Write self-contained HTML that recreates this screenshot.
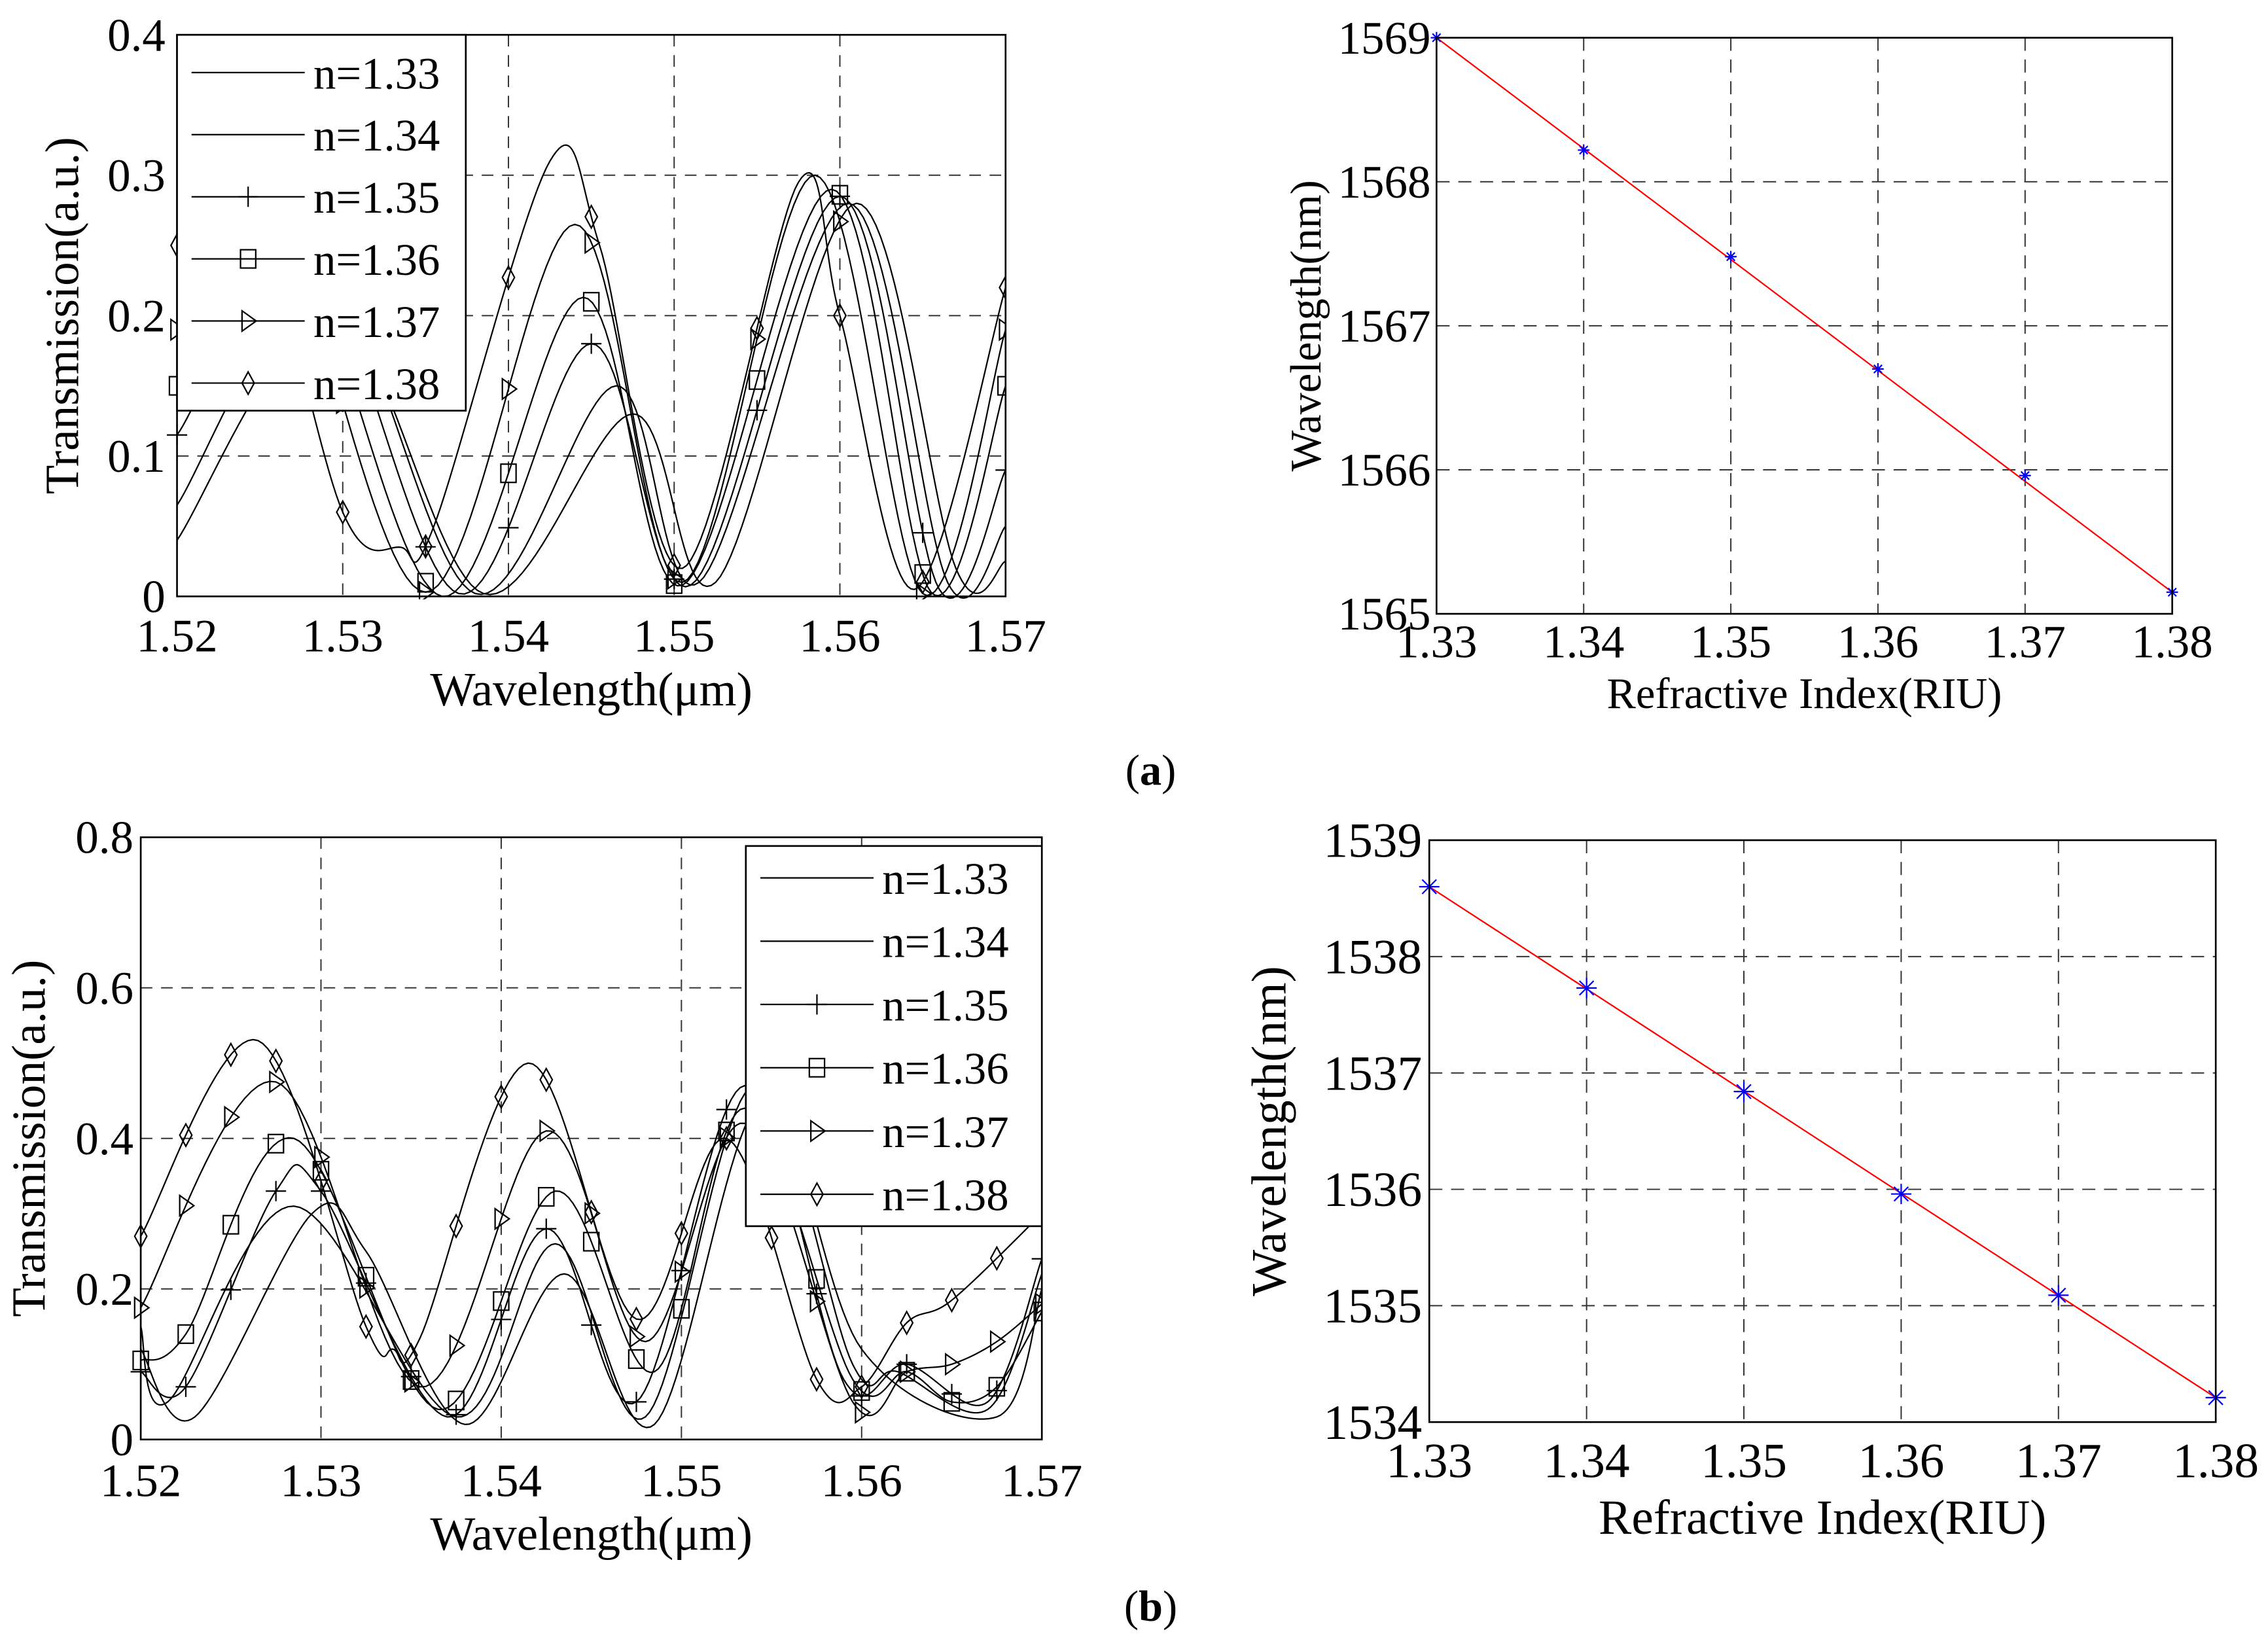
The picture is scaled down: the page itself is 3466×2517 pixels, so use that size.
<!DOCTYPE html>
<html><head><meta charset="utf-8">
<style>
html,body{margin:0;padding:0;background:#fff;}
svg{display:block;}
text{font-family:"Liberation Serif",serif;fill:#000;}
</style></head>
<body>
<svg id="fig" width="3466" height="2517" viewBox="0 0 1563 1135" preserveAspectRatio="none" xmlns="http://www.w3.org/2000/svg">
<rect x="0" y="0" width="1563" height="1135" fill="#fff"/>
<text x="793" y="541" font-size="30" text-anchor="middle">(<tspan font-weight="bold">a</tspan>)</text>
<text x="793" y="1117" font-size="30" text-anchor="middle">(<tspan font-weight="bold">b</tspan>)</text>
</svg>
<script>
// ---------- data ----------
const legendLabels = ["n=1.33","n=1.34","n=1.35","n=1.36","n=1.37","n=1.38"];
const markerTypes = ["none","none","plus","square","triangle","diamond"];
// panel (a) left: spectra, [wavelength um, transmission]
const aSpec33 = [[1.52,0.04],[1.5295,0.20],[1.5385,0.002],[1.5475,0.13],[1.5525,0.01],[1.561,0.28],[1.567,0.02],[1.57,0.025]];
const aSpec34 = [[1.52,0.065],[1.529,0.22],[1.538,0.002],[1.5465,0.15],[1.5515,0.01],[1.5605,0.28],[1.5665,0.01],[1.57,0.05]];
const aSpec35 = [[1.52,0.115],[1.528,0.24],[1.537,0.002],[1.545,0.18],[1.551,0.008],[1.56,0.285],[1.566,0.005],[1.57,0.09]];
const aSpec36 = [[1.52,0.15],[1.527,0.25],[1.536,0.0],[1.5445,0.213],[1.5505,0.008],[1.5595,0.29],[1.5655,0.003],[1.57,0.15]];
const aSpec37 = [[1.52,0.19],[1.526,0.27],[1.535,0.003],[1.544,0.265],[1.5505,0.01],[1.5585,0.30],[1.565,0.002],[1.57,0.19]];
const aSpec38 = [[1.52,0.25],[1.5245,0.28],[1.53,0.06],[1.5335,0.035],[1.5355,0.05],[1.5425,0.31],[1.5455,0.25],[1.5505,0.02],[1.5575,0.295],[1.56,0.2],[1.5645,0.005],[1.57,0.22]];
const aSeries = [aSpec33,aSpec34,aSpec35,aSpec36,aSpec37,aSpec38];
const aXTicks = [1.52,1.53,1.54,1.55,1.56,1.57];
const aXTickLabels = ["1.52","1.53","1.54","1.55","1.56","1.57"];
const aYTicks = [0,0.1,0.2,0.3,0.4];
const aYTickLabels = ["0","0.1","0.2","0.3","0.4"];
// panel (a) right
const riIndex = [1.33,1.34,1.35,1.36,1.37,1.38];
const riTickLabels = ["1.33","1.34","1.35","1.36","1.37","1.38"];
const aPeakWl = [1569.0,1568.22,1567.48,1566.70,1565.96,1565.15];
const aWlTicks = [1565,1566,1567,1568,1569];
const aWlTickLabels = ["1565","1566","1567","1568","1569"];
// panel (b) left
const bSpec33 = [[1.52,0.12],[1.523,0.03],[1.5295,0.30],[1.5325,0.25],[1.538,0.02],[1.5435,0.22],[1.5485,0.02],[1.5545,0.45],[1.56,0.12],[1.5675,0.03],[1.57,0.2]];
const bSpec34 = [[1.52,0.15],[1.5215,0.05],[1.5285,0.31],[1.5375,0.03],[1.543,0.26],[1.548,0.03],[1.554,0.47],[1.5595,0.10],[1.562,0.09],[1.567,0.04],[1.57,0.22]];
const bSpec35 = [[1.52,0.09],[1.5225,0.07],[1.5275,0.33],[1.53,0.33],[1.537,0.03],[1.5425,0.28],[1.5475,0.05],[1.5535,0.47],[1.559,0.08],[1.5625,0.1],[1.567,0.05],[1.57,0.24]];
const bSpec36 = [[1.52,0.105],[1.5225,0.14],[1.5285,0.40],[1.5365,0.04],[1.543,0.33],[1.5485,0.09],[1.5535,0.44],[1.5595,0.08],[1.5625,0.09],[1.565,0.05],[1.5675,0.07],[1.57,0.17]];
const bSpec37 = [[1.52,0.175],[1.5275,0.475],[1.5355,0.07],[1.5425,0.41],[1.548,0.13],[1.5535,0.42],[1.5595,0.05],[1.5625,0.09],[1.565,0.10],[1.5675,0.13],[1.57,0.18]];
const bSpec38 = [[1.52,0.27],[1.5265,0.53],[1.5325,0.15],[1.534,0.12],[1.5355,0.135],[1.5415,0.50],[1.5475,0.16],[1.5525,0.40],[1.5575,0.08],[1.56,0.07],[1.5625,0.155],[1.565,0.185],[1.57,0.3]];
const bSeries = [bSpec33,bSpec34,bSpec35,bSpec36,bSpec37,bSpec38];
const bYTicks = [0,0.2,0.4,0.6,0.8];
const bYTickLabels = ["0","0.2","0.4","0.6","0.8"];
// panel (b) right
const bPeakWl = [1538.6,1537.73,1536.84,1535.96,1535.09,1534.21];
const bWlTicks = [1534,1535,1536,1537,1538,1539];
const bWlTickLabels = ["1534","1535","1536","1537","1538","1539"];

// ---------- helpers ----------
const NS="http://www.w3.org/2000/svg";
const svg=document.getElementById('fig');
function mk(tag,attrs,parent){const e=document.createElementNS(NS,tag);for(const k in attrs)e.setAttribute(k,attrs[k]);(parent||svg).appendChild(e);return e;}
function scale(d0,d1,r0,r1){return v=>r0+(v-d0)*(r1-r0)/(d1-d0);}
function spline(pts){
  const out=[];
  for(let i=0;i<pts.length-1;i++){
    const p0=pts[Math.max(0,i-1)],p1=pts[i],p2=pts[i+1],p3=pts[Math.min(pts.length-1,i+2)];
    for(let k=0;k<24;k++){const t=k/24,t2=t*t,t3=t2*t;
      const f=(a,b,c,d)=>0.5*((2*b)+(-a+c)*t+(2*a-5*b+4*c-d)*t2+(-a+3*b-3*c+d)*t3);
      out.push([f(p0[0],p1[0],p2[0],p3[0]),f(p0[1],p1[1],p2[1],p3[1])]);}
  }
  out.push(pts[pts.length-1]);return out;
}
function yAt(samp,x){for(let i=0;i<samp.length-1;i++){const a=samp[i],b=samp[i+1];if((a[0]-x)*(b[0]-x)<=0&&a[0]!==b[0]){return a[1]+(b[1]-a[1])*(x-a[0])/(b[0]-a[0]);}}return samp[samp.length-1][1];}
function marker(g,type,cx,cy,s){
  if(type==="plus"){mk('path',{d:`M${cx-s} ${cy}H${cx+s}M${cx} ${cy-s}V${cy+s}`,stroke:'#000','stroke-width':1,fill:'none'},g);}
  else if(type==="square"){mk('rect',{x:cx-s*0.75,y:cy-s*0.9,width:s*1.5,height:s*1.8,stroke:'#000','stroke-width':1,fill:'none'},g);}
  else if(type==="triangle"){mk('path',{d:`M${cx-s*0.6} ${cy-s}L${cx+s*0.8} ${cy}L${cx-s*0.6} ${cy+s}Z`,stroke:'#000','stroke-width':1,fill:'none'},g);}
  else if(type==="diamond"){mk('path',{d:`M${cx} ${cy-s*1.1}L${cx+s*0.6} ${cy}L${cx} ${cy+s*1.1}L${cx-s*0.6} ${cy}Z`,stroke:'#000','stroke-width':1,fill:'none'},g);}
}
function star(g,cx,cy,s){
  mk('path',{d:`M${cx-s} ${cy}H${cx+s}M${cx} ${cy-s}V${cy+s}M${cx-s*0.7} ${cy-s*0.7}L${cx+s*0.7} ${cy+s*0.7}M${cx-s*0.7} ${cy+s*0.7}L${cx+s*0.7} ${cy-s*0.7}`,stroke:'#00f','stroke-width':1,fill:'none'},g);
}
function axesFrame(g,L,T,R,B,xs,ys,xt,xtl,yt,ytl,xTitle,yTitle,opt){
  mk('rect',{x:L,y:T,width:R-L,height:B-T,fill:'#fff'},g);
  const grid=mk('g',{},g);
  
  
  xt.forEach(v=>{const X=xs(v);if(X>L+1&&X<R-1)mk('line',{x1:X,y1:T,x2:X,y2:B,stroke:'#333','stroke-width':0.9,'stroke-dasharray':opt.dash},grid);});
  yt.forEach(v=>{const Y=ys(v);if(Y>T+1&&Y<B-1)mk('line',{x1:L,y1:Y,x2:R,y2:Y,stroke:'#333','stroke-width':0.9,'stroke-dasharray':opt.dash},grid);});
  const xl=mk('g',{},g);
  
  
  xt.forEach((v,i)=>{const t=mk('text',{x:xs(v),y:opt.xly,'font-size':opt.fs,'text-anchor':'middle'},xl);t.textContent=xtl[i];});
  const yl=mk('g',{},g);
  
  
  yt.forEach((v,i)=>{const t=mk('text',{x:opt.ylx,y:ys(v)+opt.fs*0.34,'font-size':opt.fs,'text-anchor':'end'},yl);t.textContent=ytl[i];});
  const xtt=mk('text',{x:(L+R)/2+opt.xtdx,y:opt.xty,'font-size':opt.tfs,'text-anchor':'middle'},g);
  xtt.textContent=xTitle;
  
  
  const ytt=mk('text',{x:0,y:0,'font-size':opt.tfs,'text-anchor':'middle',transform:`translate(${opt.ytx},${(T+B)/2+opt.ytdy}) rotate(-90)`},g);
  ytt.textContent=yTitle;
  
  
}
function spectrumPanel(name,L,T,R,B,ymax,series,yt,ytl,mStep,leg,opt){
  const g=mk('g',{});
  
  
  const xs=scale(1.52,1.57,L,R), ys=scale(0,ymax,B,T);
  axesFrame(g,L,T,R,B,xs,ys,aXTicks,aXTickLabels,yt,ytl,"Wavelength(\u03bcm)","Transmission(a.u.)",opt);
  mk('clipPath',{id:name+'-clip'},g).appendChild((()=>{const r=document.createElementNS(NS,'rect');r.setAttribute('x',L-8);r.setAttribute('y',T);r.setAttribute('width',R-L+8);r.setAttribute('height',B-T+2);return r;})());
  const cg=mk('g',{'clip-path':`url(#${name}-clip)`},g);
  series.forEach((pts,si)=>{
    const samp=spline(pts);
    const p=mk('path',{d:'M'+samp.map(q=>xs(q[0]).toFixed(2)+' '+ys(q[1]).toFixed(2)).join('L'),fill:'none',stroke:'#000','stroke-width':1},cg);
    
    
    if(markerTypes[si]!=="none"){
      for(let x=1.52;x<=1.5701;x+=mStep){marker(cg,markerTypes[si],xs(x),ys(Math.max(0,yAt(samp,x))),opt.ms);}
    }
  });
  mk('rect',{x:L,y:T,width:R-L,height:B-T,fill:'none',stroke:'#000','stroke-width':1.2},g);
  const lg=mk('g',{},g);
  
  
  mk('rect',{x:leg.x,y:leg.y,width:leg.w,height:leg.h,fill:'#fff',stroke:'#000','stroke-width':1.2},lg);
  legendLabels.forEach((lab,i)=>{
    const cy=leg.y0+i*leg.dy;
    const e=mk('g',{},lg);
    
    
    mk('line',{x1:leg.x+10,y1:cy,x2:leg.x+88,y2:cy,stroke:'#000','stroke-width':1},e);
    if(markerTypes[i]!=="none")marker(e,markerTypes[i],leg.x+49,cy,opt.ms);
    const t=mk('text',{x:leg.x+94,y:cy+11,'font-size':opt.lfs},e);t.textContent=lab;
  });
}
function linePanel(name,L,T,R,B,ymin,ymax,vals,wt,wtl,ss,opt){
  const g=mk('g',{});
  
  
  const xs=scale(1.33,1.38,L,R), ys=scale(ymin,ymax,B,T);
  axesFrame(g,L,T,R,B,xs,ys,riIndex,riTickLabels,wt,wtl,"Refractive Index(RIU)","Wavelength(nm)",opt);
  const n=vals.length;
  const fit=mk('line',{x1:xs(riIndex[0]),y1:ys(vals[0]),x2:xs(riIndex[n-1]),y2:ys(vals[n-1]),stroke:'#f00','stroke-width':1},g);
  
  
  vals.forEach((v,i)=>{const m=mk('g',{},g);
    
    
    star(m,xs(riIndex[i]),ys(v),ss);});
  mk('rect',{x:L,y:T,width:R-L,height:B-T,fill:'none',stroke:'#000','stroke-width':1.2},g);
}
spectrumPanel('spectrum-a',122,24,693,411,0.4,aSeries,aYTicks,aYTickLabels,0.005,
  {x:122,y:24,w:199,h:259,y0:50,dy:42.8},
  {dash:'8 6',fs:32,lfs:31,tfs:33,xly:449,ylx:114,xty:486,xtdx:0,ytx:54,ytdy:0,ms:7});
linePanel('shift-a',990,26,1497,423,1565,1569,aPeakWl,aWlTicks,aWlTickLabels,4,
  {dash:'9 6',fs:32,tfs:30,xly:453,ylx:986,xty:488,xtdx:0,ytx:910,ytdy:0});
spectrumPanel('spectrum-b',97,577,718,992,0.8,bSeries,bYTicks,bYTickLabels,0.0025,
  {x:514,y:583,w:204,h:262,y0:605,dy:43.6},
  {dash:'8 6',fs:32,lfs:31,tfs:33,xly:1031,ylx:92,xty:1068,xtdx:0,ytx:31,ytdy:0,ms:7});
linePanel('shift-b',985,579,1527,980,1534,1539,bPeakWl,bWlTicks,bWlTickLabels,7,
  {dash:'9 6',fs:34,tfs:34,xly:1018,ylx:980,xty:1057,xtdx:0,ytx:886,ytdy:0});
</script>
</body></html>
